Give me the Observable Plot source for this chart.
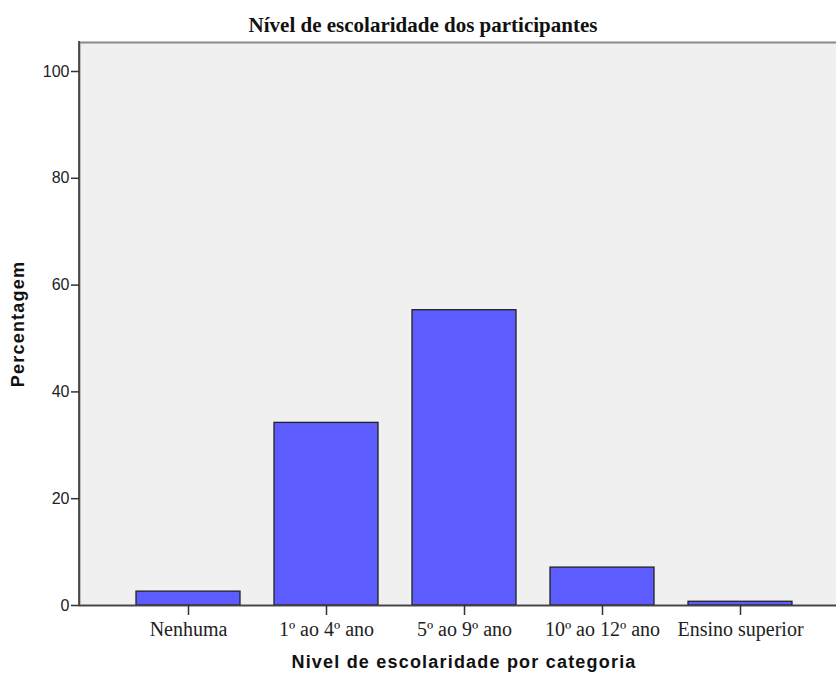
<!DOCTYPE html>
<html>
<head>
<meta charset="utf-8">
<script src="https://cdn.jsdelivr.net/npm/d3@7"></script>
<script src="https://cdn.jsdelivr.net/npm/@observablehq/plot@0.6"></script>
<style>
  html, body { margin: 0; padding: 0; background: #fff; overflow: hidden; }
  #title { width: 836px; height: 40px; box-sizing: border-box; padding-top: 10px; padding-left: 10px;
           text-align: center; font: bold 21px "Liberation Serif", "Times New Roman", serif; line-height: 30px; color: #111; }
  svg { overflow: hidden; }
</style>
</head>
<body>
<div id="title">Nível de escolaridade dos participantes</div>
<div id="chart"></div>
<script>
const categories = ["Nenhuma", "1º ao 4º ano", "5º ao 9º ano", "10º ao 12º ano", "Ensino superior"];
const percentages = [2.6, 34.2, 55.3, 7.1, 0.7];
const yTicks = [0, 20, 40, 60, 80, 100];
const xTitle = "Nivel de escolaridade por categoria";
const yTitle = "Percentagem";

const data = categories.map((c, i) => ({category: c, value: percentages[i]}));

const chart = Plot.plot({
  width: 836,
  height: 633,
  marginTop: 2,
  marginLeft: 79,
  marginRight: -12,
  marginBottom: 68,
  style: {background: "white", color: "#222"},
  x: {domain: categories, paddingInner: 0.25, paddingOuter: 0.4, label: null},
  y: {domain: [0, 100], range: [565, 31], label: null},
  marks: [
    Plot.frame({fill: "#f0f0f0", stroke: "#8a8a8a", strokeWidth: 2}),
    Plot.barY(data, {x: "category", y: "value", fill: "#5c5cff", stroke: "#222", strokeWidth: 1.3}),
    Plot.ruleY([0], {stroke: "#444", strokeWidth: 1.5}),
    Plot.axisY({ticks: yTicks, tickSize: 8, tickPadding: 2, fontSize: 16,
                fontFamily: "Liberation Sans, Arial, sans-serif", label: null, stroke: "#333", strokeWidth: 1.5}),
    Plot.axisX({tickSize: 10, tickPadding: 6, fontSize: 20,
                fontFamily: "Liberation Serif, Times New Roman, serif", label: null, stroke: "#333", strokeWidth: 1.5}),
    Plot.text([yTitle], {frameAnchor: "left", textAnchor: "middle", rotate: -90, dx: -61, fontSize: 18, fontWeight: "bold",
                         fontFamily: "Liberation Sans, Arial, sans-serif", fill: "#111"}),
    Plot.text([xTitle], {frameAnchor: "bottom", dy: 62, fontSize: 18, fontWeight: "bold",
                         fontFamily: "Liberation Sans, Arial, sans-serif", fill: "#111"})
  ]
});

// dark left axis line along the frame edge
const ys = chart.scale("y");
d3.select(chart).append("line")
  .attr("x1", 79).attr("x2", 79)
  .attr("y1", 1).attr("y2", ys.range[0])
  .attr("stroke", "#333").attr("stroke-width", 1.5);

d3.select(chart).selectAll("text").filter(function() {
  return this.getAttribute("font-weight") === "bold" || (this.parentNode && this.parentNode.getAttribute("font-weight") === "bold");
}).attr("letter-spacing", "1.2px");

document.getElementById("chart").appendChild(chart);
</script>
</body>
</html>
